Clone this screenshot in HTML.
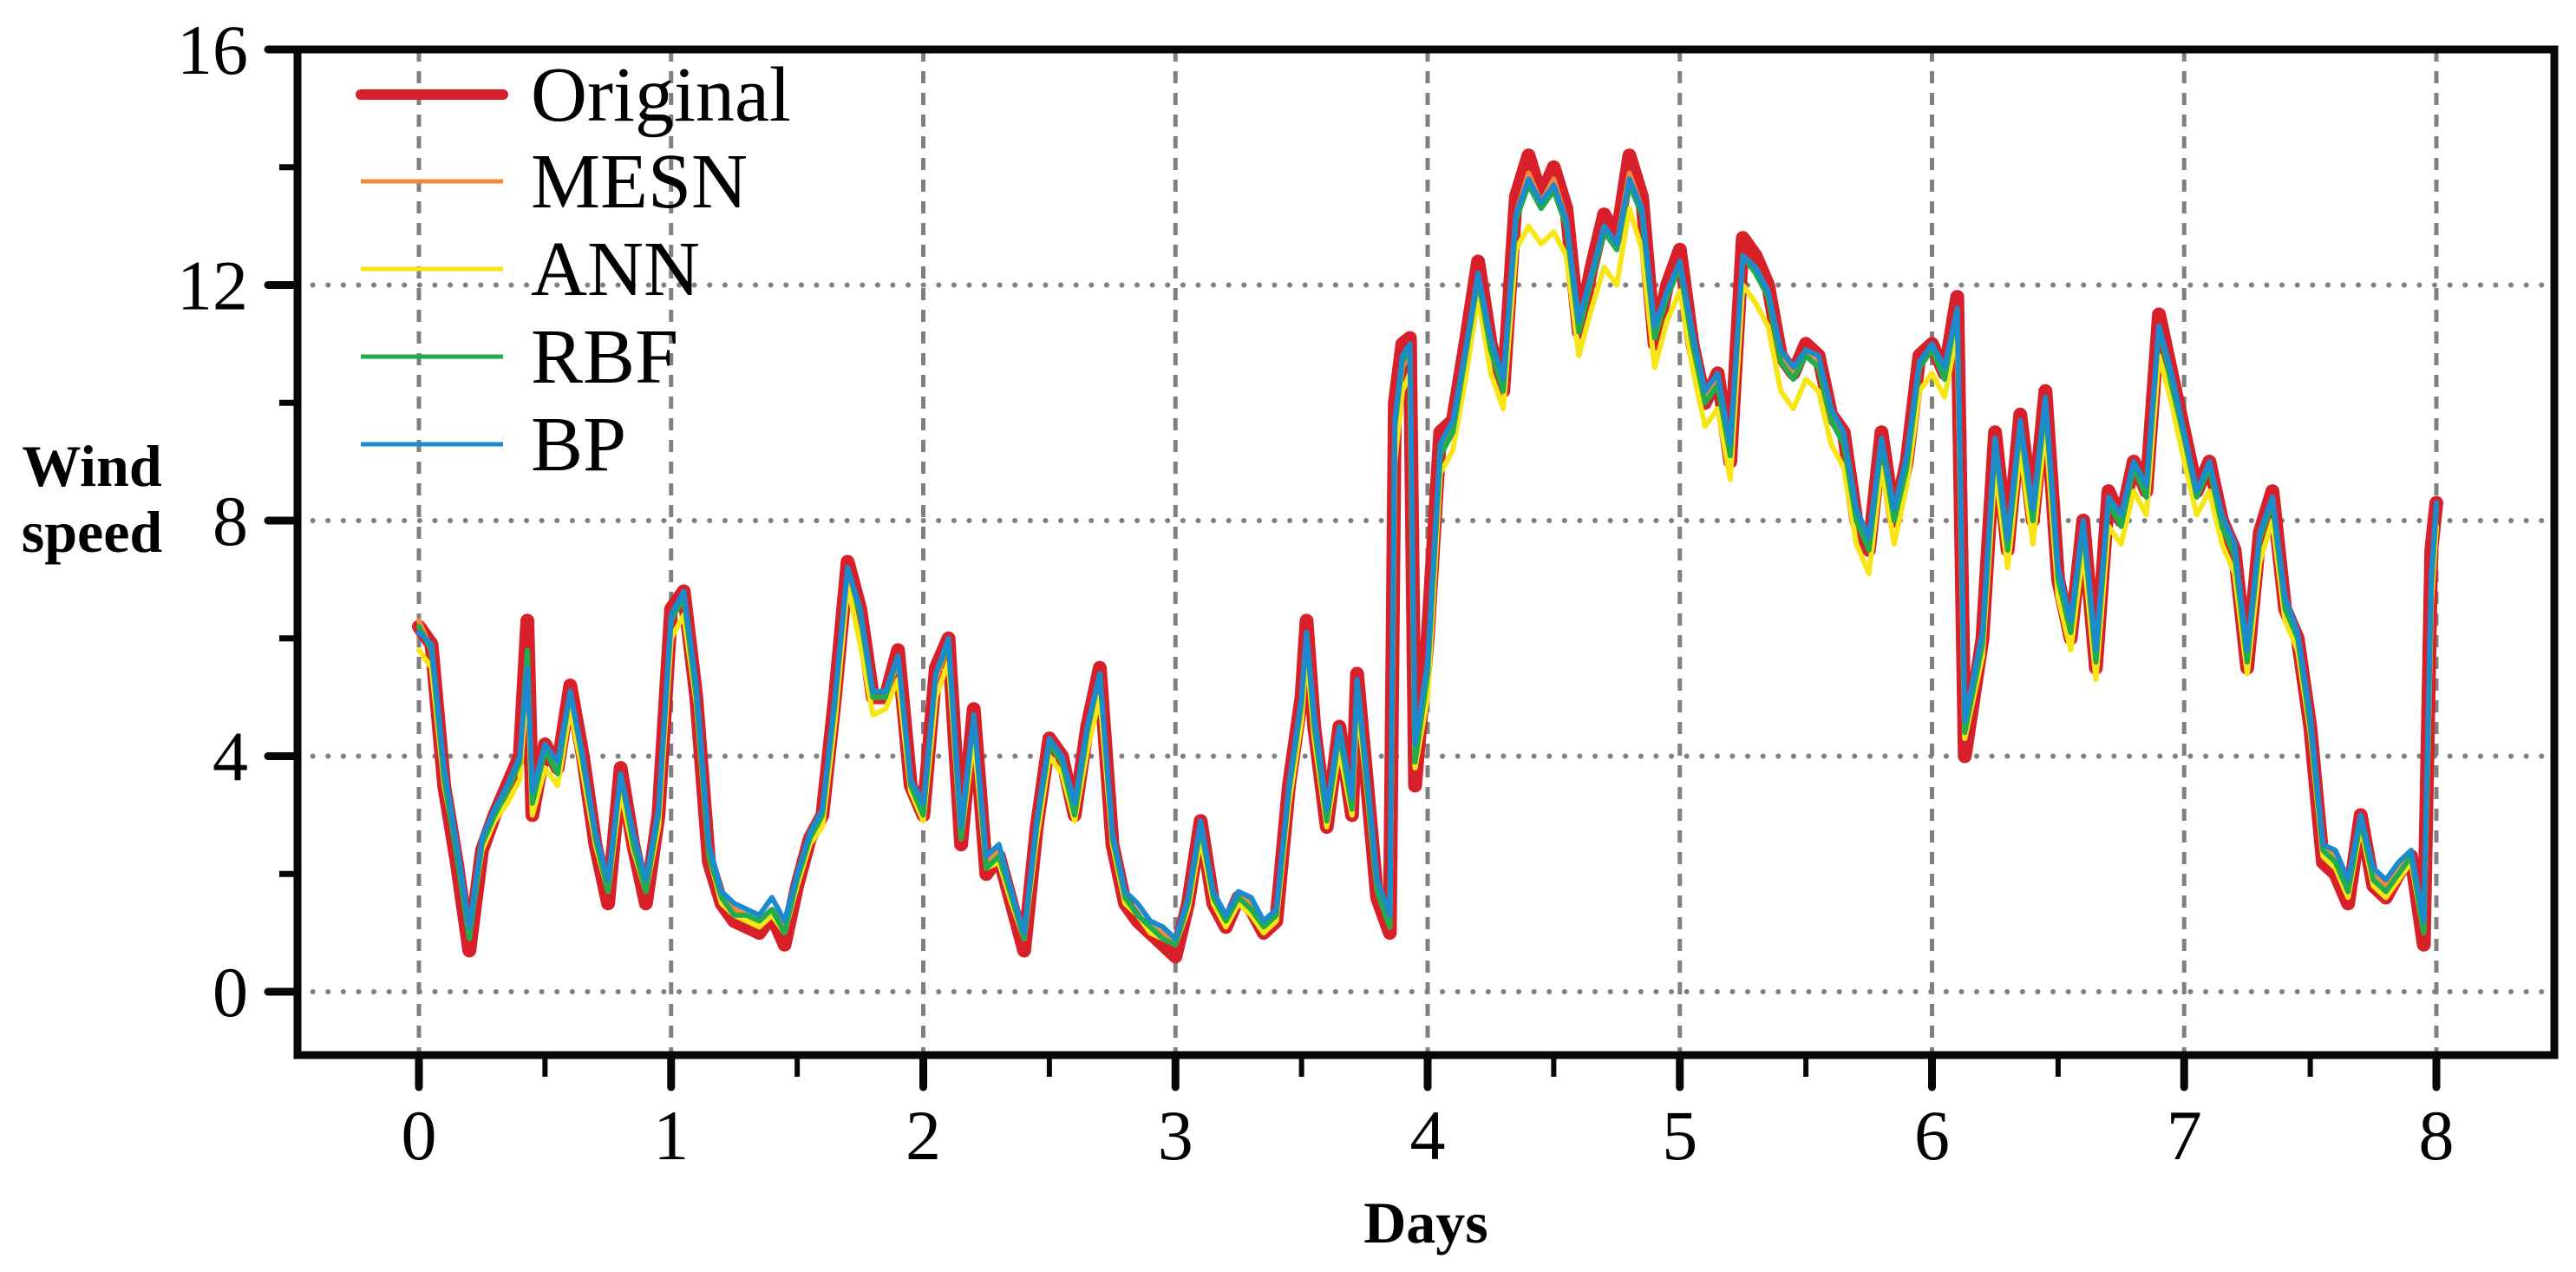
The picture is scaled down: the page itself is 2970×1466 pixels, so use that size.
<!DOCTYPE html>
<html><head><meta charset="utf-8">
<style>
html,body{margin:0;padding:0;background:#fff;}
svg{display:block;}
text{font-family:"Liberation Serif",serif;fill:#000;}
</style></head>
<body>
<svg id="chart" width="2970" height="1466" viewBox="0 0 2970 1466" xmlns="http://www.w3.org/2000/svg">
<g id="grid"></g>
<g id="series"></g>
<rect x="343" y="57" width="2602" height="1159" fill="none" stroke="#070707" stroke-width="9"/>
<g id="ticks"></g>
<text x="106" y="560" font-size="68" font-weight="bold" text-anchor="middle">Wind</text>
<text x="106" y="636" font-size="68" font-weight="bold" text-anchor="middle">speed</text>
<text x="1644" y="1432" font-size="68" font-weight="bold" text-anchor="middle">Days</text>
<g id="legend"></g>
</svg>
<script>
const days = [0,0.05,0.1,0.15,0.2,0.25,0.3,0.35,0.4,0.43,0.45,0.5,0.55,0.6,0.65,0.7,0.75,0.8,0.85,0.9,0.95,
1,1.05,1.1,1.15,1.2,1.25,1.3,1.35,1.4,1.45,1.5,1.55,1.6,1.65,1.7,1.75,1.8,1.85,1.9,1.95,
2,2.05,2.1,2.15,2.2,2.25,2.3,2.35,2.4,2.45,2.5,2.55,2.6,2.65,2.7,2.75,2.8,2.85,2.9,2.95,
3,3.05,3.1,3.15,3.2,3.25,3.3,3.35,3.4,3.45,3.5,3.52,3.55,3.6,3.65,3.7,3.72,3.75,3.8,3.85,3.87,3.9,3.93,3.95,
4,4.05,4.1,4.15,4.2,4.25,4.3,4.35,4.4,4.45,4.5,4.55,4.6,4.65,4.7,4.75,4.8,4.85,4.9,4.95,
5,5.05,5.1,5.15,5.2,5.25,5.3,5.35,5.4,5.45,5.5,5.55,5.6,5.65,5.7,5.75,5.8,5.85,5.9,5.95,
6,6.05,6.1,6.13,6.2,6.25,6.3,6.35,6.4,6.45,6.5,6.55,6.6,6.65,6.7,6.75,6.8,6.85,6.9,6.95,
7,7.05,7.1,7.15,7.2,7.25,7.3,7.35,7.4,7.45,7.5,7.55,7.6,7.65,7.7,7.75,7.8,7.85,7.9,7.95,7.98,8];
const original = [6.2,5.9,3.5,2.2,0.7,2.4,3.0,3.5,4.0,6.3,3.0,4.2,3.8,5.2,4.0,2.5,1.5,3.8,2.5,1.5,3.0,
6.5,6.8,5.0,2.2,1.5,1.2,1.1,1.0,1.3,0.8,1.8,2.6,3.0,5.0,7.3,6.5,5.0,5.0,5.8,3.5,
3.0,5.5,6.0,2.5,4.8,2.0,2.3,1.5,0.7,2.8,4.3,4.0,3.0,4.5,5.5,2.5,1.5,1.2,1.0,0.8,
0.6,1.5,2.9,1.5,1.1,1.6,1.4,1.0,1.2,3.5,5.0,6.3,4.5,2.8,4.5,3.0,5.4,4.0,1.6,1.0,10.0,11.0,11.1,3.5,
6.0,9.5,9.7,11.0,12.4,11.0,10.2,13.5,14.2,13.5,14.0,13.3,11.2,12.3,13.2,12.8,14.2,13.5,11.0,12.0,
12.6,11.0,10.0,10.5,9.0,12.8,12.5,12.0,10.8,10.5,11.0,10.8,9.8,9.5,8.0,7.5,9.5,8.0,9.0,10.8,
11.0,10.5,11.8,4.0,6.0,9.5,7.5,9.8,8.0,10.2,7.0,6.0,8.0,5.5,8.5,8.0,9.0,8.5,11.5,10.5,
9.5,8.5,9.0,8.0,7.5,5.5,7.8,8.5,6.5,6.0,4.5,2.2,2.0,1.5,3.0,1.8,1.6,2.0,2.3,0.8,7.5,8.3];
const mesn = [6.3,5.8,3.7,2.4,1.0,2.5,3.0,3.4,3.9,5.6,3.3,4.1,3.8,5.0,4.0,2.6,1.8,3.6,2.6,1.8,3.0,
6.3,6.7,5.1,2.4,1.6,1.4,1.3,1.2,1.4,1.1,1.9,2.6,3.0,4.9,7.1,6.4,5.0,5.0,5.6,3.6,
3.1,5.3,5.9,2.7,4.6,2.2,2.4,1.6,0.9,2.8,4.2,3.9,3.1,4.4,5.3,2.6,1.6,1.3,1.1,1.0,
0.8,1.5,2.8,1.6,1.2,1.6,1.5,1.1,1.3,3.4,4.9,6.0,4.6,3.0,4.4,3.2,5.2,4.0,1.8,1.2,9.5,10.6,10.9,4.0,
5.5,9.2,9.6,10.8,12.2,11.0,10.3,13.2,13.9,13.4,13.8,13.1,11.3,12.2,13.0,12.7,13.9,13.3,11.2,11.9,
12.4,11.1,10.1,10.4,9.2,12.5,12.3,11.9,10.8,10.5,10.9,10.7,9.8,9.4,8.1,7.6,9.3,8.1,9.0,10.6,
10.9,10.5,11.6,4.5,6.0,9.3,7.6,9.6,8.1,10.0,7.1,6.2,7.9,5.7,8.3,8.0,8.9,8.5,11.3,10.4,
9.4,8.5,8.9,8.0,7.5,5.7,7.7,8.4,6.6,6.0,4.6,2.5,2.3,1.8,3.0,2.0,1.8,2.1,2.4,1.1,7.0,8.2];
const ann = [5.8,5.5,3.5,2.4,1.0,2.4,2.9,3.2,3.6,5.4,3.0,3.8,3.5,4.8,3.7,2.5,1.7,3.4,2.4,1.7,2.8,
6.0,6.4,4.9,2.3,1.5,1.3,1.2,1.1,1.3,1.0,1.8,2.5,2.8,4.6,6.9,5.9,4.7,4.8,5.3,3.4,
2.9,5.0,5.6,2.6,4.3,2.1,2.2,1.5,0.9,2.6,4.0,3.7,2.9,4.1,5.0,2.5,1.5,1.3,1.0,0.9,
0.8,1.4,2.6,1.5,1.1,1.5,1.3,1.0,1.2,3.2,4.6,5.8,4.3,2.8,4.1,3.0,4.9,3.8,1.7,1.1,9.0,10.2,10.5,3.8,
5.0,8.8,9.2,10.4,11.8,10.5,9.9,12.6,13.0,12.7,12.9,12.5,10.8,11.6,12.3,12.0,13.3,12.6,10.6,11.4,
11.9,10.6,9.6,9.9,8.7,12.0,11.7,11.3,10.2,9.9,10.4,10.2,9.3,8.9,7.6,7.1,8.9,7.6,8.6,10.2,
10.5,10.1,11.2,4.3,5.7,8.9,7.2,9.2,7.6,9.6,6.7,5.8,7.5,5.3,7.9,7.6,8.5,8.1,10.8,10.0,
9.0,8.1,8.5,7.6,7.1,5.4,7.3,8.0,6.3,5.8,4.4,2.3,2.1,1.6,2.8,1.8,1.6,1.9,2.2,1.0,6.6,7.9];
const rbf = [6.2,5.8,3.6,2.3,0.9,2.5,3.0,3.4,3.9,5.8,3.2,4.1,3.7,5.1,3.9,2.6,1.7,3.7,2.5,1.7,3.0,
6.3,6.7,5.0,2.3,1.6,1.3,1.3,1.2,1.4,1.0,1.9,2.6,3.0,4.9,7.2,6.4,5.0,5.0,5.7,3.5,
3.0,5.4,5.9,2.6,4.7,2.1,2.3,1.6,0.9,2.8,4.2,3.9,3.0,4.4,5.4,2.6,1.6,1.3,1.1,0.9,
0.8,1.5,2.8,1.6,1.2,1.6,1.4,1.1,1.3,3.4,4.9,6.1,4.5,2.9,4.4,3.1,5.3,3.9,1.7,1.1,9.6,10.7,10.9,3.9,
5.4,9.1,9.5,10.8,12.1,10.9,10.2,13.1,13.7,13.3,13.6,13.0,11.2,12.1,12.9,12.6,13.7,13.2,11.1,11.8,
12.3,11.0,10.0,10.3,9.1,12.5,12.2,11.8,10.7,10.4,10.8,10.6,9.7,9.3,8.0,7.5,9.3,8.0,8.9,10.6,
10.9,10.4,11.6,4.4,5.9,9.3,7.5,9.6,8.0,10.0,7.0,6.1,7.9,5.6,8.3,7.9,8.9,8.4,11.3,10.3,
9.4,8.4,8.9,7.9,7.4,5.6,7.7,8.3,6.5,6.0,4.5,2.4,2.2,1.7,2.9,1.9,1.7,2.0,2.3,1.0,6.9,8.2];
const bp = [6.1,5.9,3.8,2.5,1.1,2.6,3.1,3.5,4.0,5.5,3.4,4.2,3.9,5.1,4.0,2.7,1.9,3.7,2.7,1.9,3.1,
6.4,6.8,5.2,2.5,1.7,1.5,1.4,1.3,1.6,1.2,2.0,2.7,3.1,5.0,7.2,6.5,5.1,5.1,5.7,3.6,
3.2,5.4,6.0,2.8,4.7,2.3,2.5,1.7,1.0,2.9,4.3,4.0,3.2,4.5,5.4,2.7,1.7,1.5,1.2,1.1,
0.9,1.6,2.9,1.7,1.3,1.7,1.6,1.2,1.4,3.5,5.0,6.1,4.7,3.1,4.5,3.3,5.3,4.1,1.9,1.3,9.7,10.8,11.0,4.2,
5.6,9.3,9.7,10.9,12.2,11.1,10.4,13.2,13.8,13.4,13.7,13.1,11.4,12.2,13.0,12.7,13.8,13.3,11.3,11.9,
12.4,11.2,10.2,10.5,9.3,12.5,12.3,11.9,10.9,10.6,10.9,10.8,9.9,9.5,8.2,7.7,9.4,8.2,9.1,10.7,
11.0,10.6,11.6,4.6,6.1,9.4,7.7,9.7,8.2,10.1,7.2,6.3,8.0,5.8,8.4,8.1,9.0,8.6,11.3,10.5,
9.5,8.5,9.0,8.1,7.6,5.8,7.8,8.4,6.7,6.1,4.7,2.5,2.4,1.9,3.0,2.1,1.9,2.2,2.4,1.2,7.1,8.3];
const xTicks = [0,1,2,3,4,5,6,7,8];
const yTicks = [0,4,8,12,16];
const seriesNames = ["Original","MESN","ANN","RBF","BP"];

const NS = "http://www.w3.org/2000/svg";
const X0 = 483, X1 = 2809, Y0 = 1143, Y1 = 57;
function xs(d){ return X0 + (d - 0) / (8 - 0) * (X1 - X0); }
function ys(v){ return Y0 - (v - 0) / (16 - 0) * (Y0 - Y1); }
function mk(tag, attrs, parent){
  const e = document.createElementNS(NS, tag);
  for (const k in attrs) e.setAttribute(k, attrs[k]);
  parent.appendChild(e);
  return e;
}
const grid = document.getElementById('grid');
xTicks.forEach(t => {
  const l = mk('line', {x1: xs(t), x2: xs(t), y1: 57, y2: 1216, stroke: '#808080', 'stroke-width': 5, 'stroke-dasharray': '14 11'}, grid);
  
  
});
yTicks.slice(0, 4).forEach(t => {
  const l = mk('line', {x1: 343, x2: 2945, y1: ys(t), y2: ys(t), stroke: '#808080', 'stroke-width': 6, 'stroke-dasharray': '0.1 17.5', 'stroke-linecap': 'round'}, grid);
  
  
});

const ser = document.getElementById('series');
const sdefs = [[original, '#d72029', 16], [mesn, '#f48a3c', 6], [ann, '#f7e516', 6], [rbf, '#21ad4d', 6], [bp, '#1c8acb', 6]];
sdefs.forEach((s, i) => {
  const pts = days.map((d, j) => xs(d).toFixed(1) + ',' + ys(s[0][j]).toFixed(1)).join(' ');
  const p = mk('polyline', {points: pts, fill: 'none', stroke: s[1], 'stroke-width': s[2], 'stroke-linejoin': 'round', 'stroke-linecap': 'round'}, ser);
  
  
});

const tk = document.getElementById('ticks');
xTicks.forEach(t => {
  const l = mk('line', {x1: xs(t), x2: xs(t), y1: 1216, y2: 1253, stroke: '#070707', 'stroke-width': 9, 'stroke-linecap': 'round'}, tk);
  
  
  const tx = mk('text', {x: xs(t), y: 1336, 'font-size': 82, 'text-anchor': 'middle'}, tk);
  tx.textContent = t;
  
  
  if (t < 8) {
    const m = mk('line', {x1: xs(t + 0.5), x2: xs(t + 0.5), y1: 1216, y2: 1241, stroke: '#070707', 'stroke-width': 6}, tk);
    
    
  }
});
yTicks.forEach(t => {
  const l = mk('line', {x1: 309, x2: 343, y1: ys(t), y2: ys(t), stroke: '#070707', 'stroke-width': 9, 'stroke-linecap': 'round'}, tk);
  
  
  const tx = mk('text', {x: 286, y: ys(t) + 28, 'font-size': 82, 'text-anchor': 'end'}, tk);
  tx.textContent = t;
  
  
  if (t < 16) {
    const m = mk('line', {x1: 322, x2: 343, y1: ys(t + 2), y2: ys(t + 2), stroke: '#070707', 'stroke-width': 7}, tk);
    
    
  }
});

const lg = document.getElementById('legend');
const legY = [109, 209, 310, 411, 512];
seriesNames.forEach((n, i) => {
  const g = mk('g', {}, lg);
  
  
  const l = mk('line', {x1: 416, x2: 580, y1: legY[i], y2: legY[i], stroke: sdefs[i][1], 'stroke-width': i === 0 ? 12 : 5, 'stroke-linecap': i === 0 ? 'round' : 'butt'}, g);
  
  
  const t = mk('text', {x: 612, y: legY[i] + 30, 'font-size': 90}, g);
  t.textContent = n;
  
  
});
</script>
</body></html>
